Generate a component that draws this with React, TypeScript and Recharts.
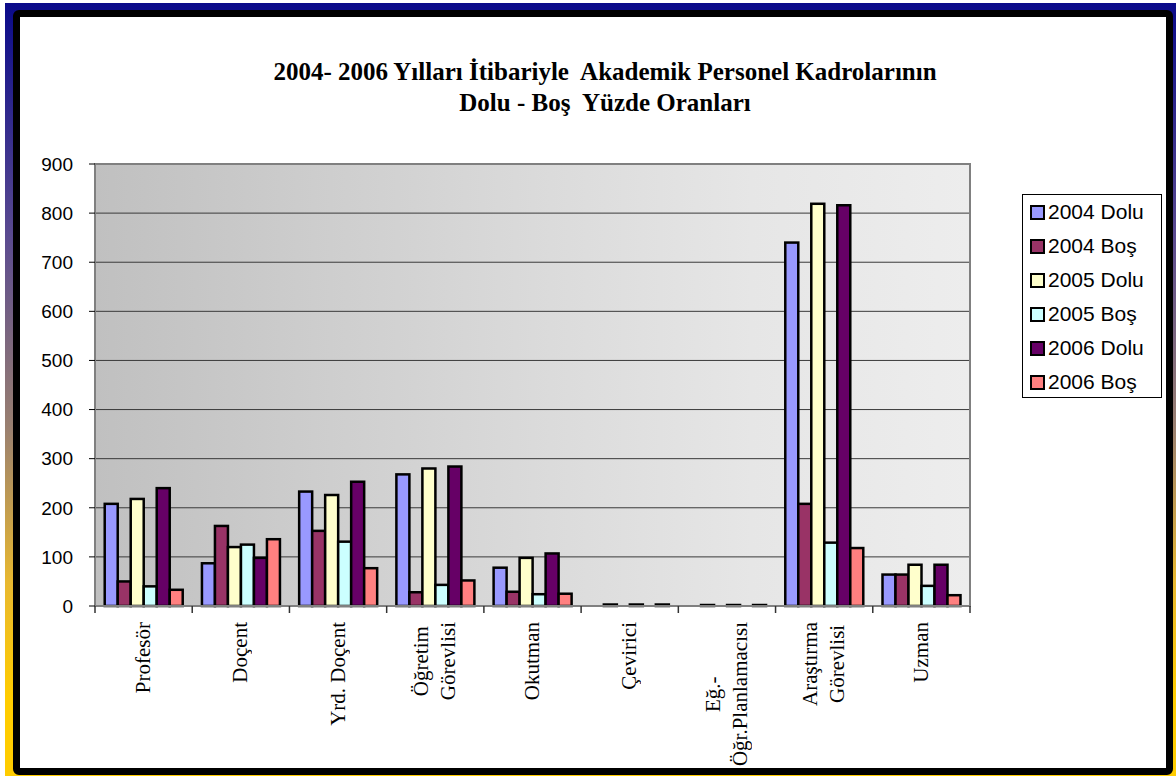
import { BarChart, Bar, XAxis, YAxis, CartesianGrid, Legend, ReferenceArea } from "recharts";

const categories = [
  "Profesör",
  "Doçent",
  "Yrd. Doçent",
  "Öğretim\nGörevlisi",
  "Okutman",
  "Çevirici",
  "Eğ.-\nÖğr.Planlamacısı",
  "Araştırma\nGörevlisi",
  "Uzman",
];

const dolu2004 = [208, 87, 233, 268, 78, 0, 0, 740, 64];
const bos2004 = [50, 163, 153, 28, 29, 3, 2, 208, 64];
const dolu2005 = [218, 120, 226, 280, 98, 0, 0, 819, 84];
const bos2005 = [40, 125, 131, 43, 24, 3, 2, 129, 41];
const dolu2006 = [240, 98, 253, 284, 107, 0, 0, 816, 84];
const bos2006 = [33, 136, 77, 52, 25, 3, 2, 118, 22];

const yTicks = [0, 100, 200, 300, 400, 500, 600, 700, 800, 900];

const series = [
  { key: "d2004", name: "2004 Dolu", color: "#9999ff", values: dolu2004 },
  { key: "b2004", name: "2004 Boş", color: "#993366", values: bos2004 },
  { key: "d2005", name: "2005 Dolu", color: "#ffffcc", values: dolu2005 },
  { key: "b2005", name: "2005 Boş", color: "#ccffff", values: bos2005 },
  { key: "d2006", name: "2006 Dolu", color: "#660066", values: dolu2006 },
  { key: "b2006", name: "2006 Boş", color: "#ff8080", values: bos2006 },
];

const data = categories.map((c, i) => {
  const row: Record<string, string | number> = { name: c };
  series.forEach((s) => (row[s.key] = s.values[i]));
  return row;
});

// plot spans x 95..970
const BAND = (970 - 95) / categories.length;

function CategoryTick(props: any) {
  const { x, y, payload, index } = props;
  const last = index === categories.length - 1;
  return (
    <g>
      <line x1={x - BAND / 2} x2={x - BAND / 2} y1={y} y2={y + 7} stroke="#333" strokeWidth={1.5} />
      {last && <line x1={x + BAND / 2} x2={x + BAND / 2} y1={y} y2={y + 7} stroke="#333" strokeWidth={1.5} />}
      <foreignObject x={x - 70} y={y + 16} width={140} height={170}>
        <div style={{ display: "flex", justifyContent: "center", alignItems: "flex-start", height: "100%" }}>
          <div
            style={{
              writingMode: "vertical-rl",
              transform: "rotate(180deg)",
              textAlign: "center",
              fontFamily: '"Liberation Serif", "Times New Roman", serif',
              fontSize: 21,
              lineHeight: "27px",
              whiteSpace: "pre-line",
              color: "#000",
            }}
          >
            {payload.value}
          </div>
        </div>
      </foreignObject>
    </g>
  );
}

// outlined bar like the Excel original
function OutlinedBar(props: any) {
  const { x, y, width, height, fill } = props;
  if (!height || height <= 0) return <g />;
  return <rect x={x} y={y} width={width} height={height} fill={fill} stroke="#000" strokeWidth={2.5} />;
}

// legend drawn in series order (Recharts would sort the payload by name)
function LegendBox() {
  return (
    <div style={{ border: "1px solid #000", background: "#fff", width: 140, height: 204, boxSizing: "border-box" }}>
      {series.map((s) => (
        <div key={s.key} style={{ height: 34, display: "flex", alignItems: "center" }}>
          <span
            style={{
              width: 15,
              height: 15,
              marginLeft: 7,
              border: "2px solid #000",
              boxSizing: "border-box",
              background: s.color,
            }}
          />
          <span style={{ marginLeft: 3, fontFamily: 'Arial, "Liberation Sans", sans-serif', fontSize: 21, color: "#000" }}>
            {s.name}
          </span>
        </div>
      ))}
    </div>
  );
}

export default function App() {
  return (
    <div style={{ position: "absolute", left: 0, top: 0, width: 1176, height: 776, background: "#fff", overflow: "hidden" }}>
      <div
        style={{
          position: "absolute",
          left: 5,
          top: 3,
          width: 1171,
          height: 773,
          background: "linear-gradient(to bottom, #0a0a8a 0%, #5a4a90 30%, #9a8070 55%, #e8b830 75%, #ffcc00 90%)",
        }}
      />
      <div
        style={{
          position: "absolute",
          left: 13,
          top: 10,
          width: 1160,
          height: 765,
          border: "7px solid #000",
          borderRadius: 6,
          boxSizing: "border-box",
          background: "#fff",
          overflow: "hidden",
        }}
      >
        <div style={{ position: "absolute", left: -20, top: -17, width: 1176, height: 776 }}>
          <div
            style={{
              position: "absolute",
              left: 0,
              top: 56,
              width: 1210,
              textAlign: "center",
              fontFamily: '"Liberation Serif", "Times New Roman", serif',
              fontWeight: "bold",
              fontSize: 25,
              lineHeight: "31px",
              whiteSpace: "pre",
              color: "#000",
            }}
          >
            {"2004- 2006 Yılları İtibariyle  Akademik Personel Kadrolarının\nDolu - Boş  Yüzde Oranları"}
          </div>
          <BarChart
            width={1176}
            height={776}
            data={data}
            margin={{ top: 164, right: 206, bottom: 10, left: 20 }}
            barCategoryGap="10%"
            barGap={0}
          >
            <defs>
              <linearGradient id="plotBg" x1="0" y1="0" x2="1" y2="0">
                <stop offset="0%" stopColor="#c0c0c0" />
                <stop offset="50%" stopColor="#dadada" />
                <stop offset="75%" stopColor="#e6e6e6" />
                <stop offset="100%" stopColor="#ededed" />
              </linearGradient>
            </defs>
            <CartesianGrid vertical={false} fill="url(#plotBg)" stroke="#3a3a3a" strokeWidth={1} />
            <ReferenceArea y1={0} y2={900} fill="none" stroke="#808080" strokeWidth={2} />
            <XAxis
              dataKey="name"
              interval={0}
              height={160}
              tickSize={0}
              tickMargin={0}
              tickLine={false}
              axisLine={{ stroke: "#808080", strokeWidth: 2 }}
              tick={<CategoryTick />}
            />
            <YAxis
              domain={[0, 900]}
              ticks={yTicks}
              width={75}
              tickSize={6}
              tickMargin={16}
              axisLine={{ stroke: "#808080", strokeWidth: 2 }}
              tickLine={{ stroke: "#000" }}
              tick={{ fill: "#000", fontSize: 19, fontFamily: 'Arial, "Liberation Sans", sans-serif' }}
            />
            <Legend
              layout="vertical"
              align="center"
              verticalAlign="middle"
              content={<LegendBox />}
              wrapperStyle={{ left: 1022, top: 194, width: 140 }}
            />
            {series.map((s) => (
              <Bar
                key={s.key}
                dataKey={s.key}
                name={s.name}
                fill={s.color}
                shape={<OutlinedBar />}
                isAnimationActive={false}
              />
            ))}
          </BarChart>
        </div>
      </div>
    </div>
  );
}
